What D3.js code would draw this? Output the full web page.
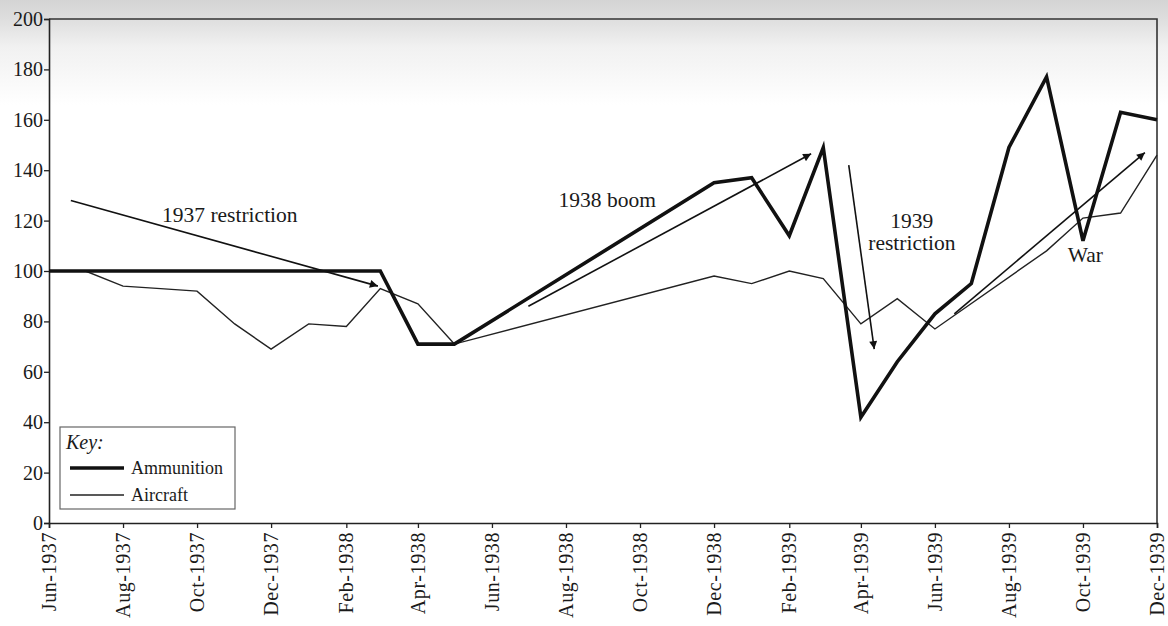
<html>
<head>
    <title>Ammunition and aircraft</title>
    <style>
        body { margin: 0; background: #fff; }
        #chart { width: 1168px; height: 626px; }
        text { font-family: "Liberation Serif", "DejaVu Serif", serif; fill: #1a1a1a; }
    </style>
</head>
<body>
<div id="chart"></div>
</body>
<script src="https://d3js.org/d3.v7.min.js"></script>
<script>

  const width = 1168;
  const height = 626;

  // monthly index values, Jun-1937 .. Dec-1939 (null = no point, line runs straight)
  const months = ['1937-06', '1937-07', '1937-08', '1937-09', '1937-10', '1937-11', '1937-12',
    '1938-01', '1938-02', '1938-03', '1938-04', '1938-05', '1938-06', '1938-07', '1938-08',
    '1938-09', '1938-10', '1938-11', '1938-12', '1939-01', '1939-02', '1939-03', '1939-04',
    '1939-05', '1939-06', '1939-07', '1939-08', '1939-09', '1939-10', '1939-11', '1939-12']
  const ammunition = [100, 100, 100, 100, 100, 100, 100,
    100, 100, 100, 71, 71, null, null, null,
    null, null, null, 135, 137, 114, 149, 42,
    64, 83, 95, 149, 177, 112, 163, 160]
  const aircraft = [100, 100, 94, 93, 92, 79, 69,
    79, 78, 93, 87, 71, null, null, null,
    null, null, null, 98, 95, 100, 97, 79,
    89, 77, null, null, 108, 121, 123, 146]

  const yTicks = [0, 20, 40, 60, 80, 100, 120, 140, 160, 180, 200]

  // annotation arrows: [start date, start value, end date, end value]
  const arrows = [
    ['1937-06-19', 128, '1938-02-27', 94],
    ['1938-07-01', 86, '1939-02-19', 146.5],
    ['1939-03-22', 142, '1939-04-12', 69],
    ['1939-06-17', 83, '1939-11-21', 147]
  ]
  const notes = [
    {date: '1937-10-28', value: 119.4, text: '1937 restriction'},
    {date: '1938-09-04', value: 125.4, text: '1938 boom'},
    {date: '1939-05-13', value: 117, text: '1939'},
    {date: '1939-05-13', value: 108.3, text: 'restriction'},
    {date: '1939-10-03', value: 103.6, text: 'War'}
  ]

  const parseMonth = d3.timeParse('%Y-%m')
  const parseDay = d3.timeParse('%Y-%m-%d')
  const dates = months.map(parseMonth)

  const plotLeft = 49, plotRight = 1157, plotTop = 19, plotBottom = 523

  const svg = d3.select('#chart')
    .append('svg')
    .attr('width', width)
    .attr('height', height)

  // faint scan shadow at the top of the page
  const defs = svg.append('defs')
  const grad = defs.append('linearGradient')
    .attr('id', 'shade').attr('x1', 0).attr('y1', 0).attr('x2', 0).attr('y2', 1)
  grad.append('stop').attr('offset', '0%').attr('stop-color', '#d4d4d4')
  grad.append('stop').attr('offset', '18%').attr('stop-color', '#dedede')
  grad.append('stop').attr('offset', '45%').attr('stop-color', '#f1f1f1')
  grad.append('stop').attr('offset', '100%').attr('stop-color', '#ffffff')
  svg.append('rect').attr('x', 0).attr('y', 0).attr('width', width).attr('height', 105)
    .attr('fill', 'url(#shade)')

  const xScale = d3.scaleTime().domain([dates[0], dates[dates.length - 1]]).range([plotLeft, plotRight])
  const yScale = d3.scaleLinear().domain([0, 200]).range([plotBottom, plotTop])

  // plot frame (top and right)
  svg.append('path')
    .attr('d', `M${plotLeft},${plotTop}H${plotRight}V${plotBottom}`)
    .attr('fill', 'none')
    .attr('stroke', '#333')
    .attr('stroke-width', 1.6)

  // y axis
  const yAxis = d3.axisLeft(yScale).tickValues(yTicks).tickSize(5).tickPadding(1)
  const gy = svg.append('g').attr('transform', `translate(${plotLeft},0)`).call(yAxis)
  gy.attr('font-family', null)
  gy.selectAll('text').attr('font-size', 20)
  gy.select('.domain').attr('stroke', '#222').attr('stroke-width', 1.6)
  gy.selectAll('.tick line').attr('stroke', '#222').attr('stroke-width', 1.3)

  // x axis
  const xTicks = dates.filter((d, i) => i % 2 === 0)
  const xAxis = d3.axisBottom(xScale).tickValues(xTicks).tickFormat(d3.timeFormat('%b-%Y')).tickSize(5)
  const gx = svg.append('g').attr('transform', `translate(0,${plotBottom})`).call(xAxis)
  gx.attr('font-family', null)
  gx.select('.domain').attr('stroke', '#222').attr('stroke-width', 1.6)
  gx.selectAll('.tick line').attr('stroke', '#222').attr('stroke-width', 1.3)
  gx.selectAll('text')
    .attr('font-size', 20)
    .attr('letter-spacing', 0.6)
    .attr('text-anchor', 'end')
    .attr('transform', 'rotate(-90)')
    .attr('x', -9)
    .attr('y', 0)
    .attr('dy', '0.33em')

  gy.selectAll('text').attr('fill', '#1a1a1a')
  gx.selectAll('text').attr('fill', '#1a1a1a')

  // series lines, gaps bridged so the line runs straight across missing months
  const line = d3.line()
    .x(d => xScale(d.date))
    .y(d => yScale(d.value))

  const toPoints = values => dates.map((date, i) => ({date, value: values[i]})).filter(d => d.value != null)

  svg.append('path')
    .datum(toPoints(aircraft))
    .attr('d', line)
    .attr('fill', 'none')
    .attr('stroke', '#222')
    .attr('stroke-width', 1.4)
    .attr('stroke-linejoin', 'miter')

  svg.append('path')
    .datum(toPoints(ammunition))
    .attr('d', line)
    .attr('fill', 'none')
    .attr('stroke', '#111')
    .attr('stroke-width', 3.6)
    .attr('stroke-linejoin', 'miter')

  // arrows
  defs.append('marker')
    .attr('id', 'head')
    .attr('viewBox', '0 0 10 10')
    .attr('refX', 10).attr('refY', 5)
    .attr('markerWidth', 12).attr('markerHeight', 8)
    .attr('markerUnits', 'userSpaceOnUse')
    .attr('orient', 'auto')
    .append('path').attr('d', 'M0,0L10,5L0,10Z').attr('fill', '#111')

  svg.selectAll('line.arrow')
    .data(arrows)
    .join('line')
    .attr('class', 'arrow')
    .attr('x1', d => xScale(parseDay(d[0])))
    .attr('y1', d => yScale(d[1]))
    .attr('x2', d => xScale(parseDay(d[2])))
    .attr('y2', d => yScale(d[3]))
    .attr('stroke', '#111')
    .attr('stroke-width', 1.6)
    .attr('marker-end', 'url(#head)')

  svg.selectAll('text.note')
    .data(notes)
    .join('text')
    .attr('class', 'note')
    .attr('x', d => xScale(parseDay(d.date)))
    .attr('y', d => yScale(d.value))
    .attr('text-anchor', 'middle')
    .attr('font-size', 21.5)
    .text(d => d.text)

  // key box
  const key = svg.append('g').attr('transform', 'translate(60,427)')
  key.append('rect').attr('width', 175).attr('height', 82)
    .attr('fill', '#fff').attr('stroke', '#666').attr('stroke-width', 1.2)
  key.append('text').attr('x', 6).attr('y', 22).attr('font-size', 20).attr('font-style', 'italic').text('Key:')
  key.append('line').attr('x1', 10).attr('x2', 64).attr('y1', 41).attr('y2', 41)
    .attr('stroke', '#111').attr('stroke-width', 3.6)
  key.append('text').attr('x', 71).attr('y', 47).attr('font-size', 18).text('Ammunition')
  key.append('line').attr('x1', 10).attr('x2', 64).attr('y1', 68).attr('y2', 68)
    .attr('stroke', '#222').attr('stroke-width', 1.4)
  key.append('text').attr('x', 71).attr('y', 74).attr('font-size', 18).text('Aircraft')

</script>
</html>
